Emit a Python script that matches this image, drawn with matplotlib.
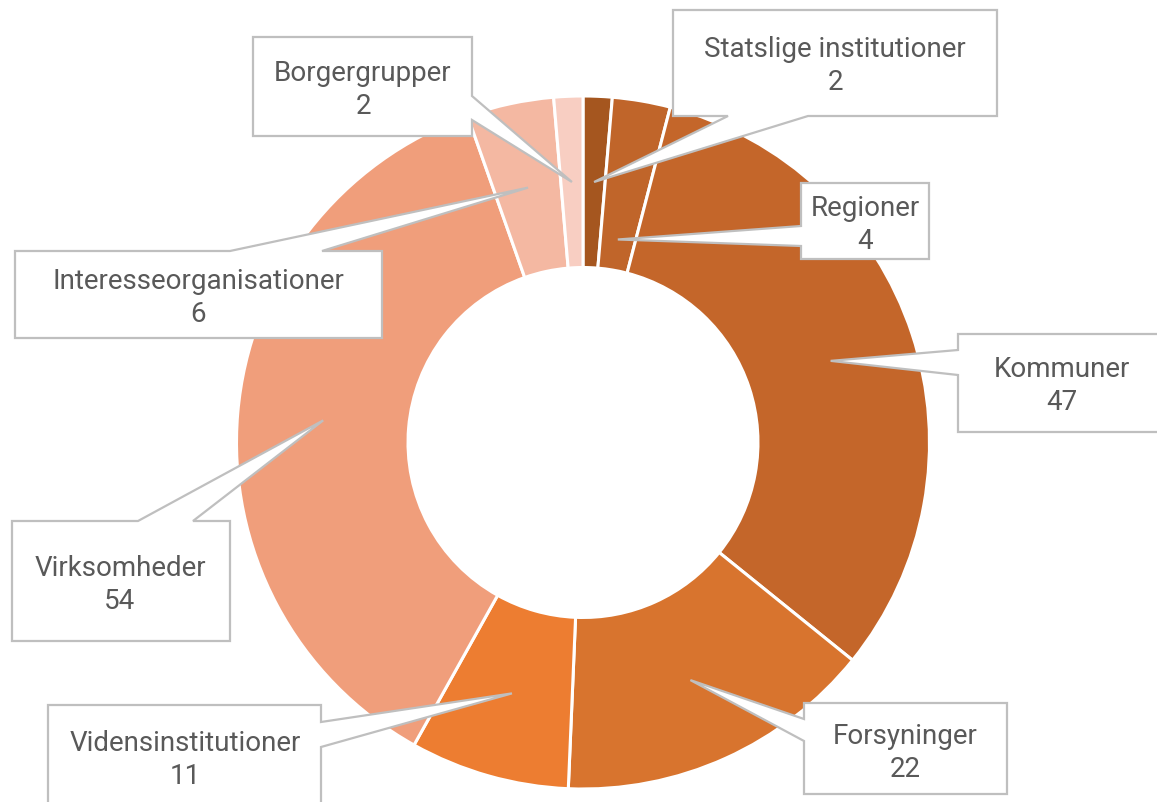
import matplotlib
matplotlib.use("Agg")
import matplotlib.pyplot as plt
import numpy as np
from matplotlib.patches import Polygon

categories = ["Statslige institutioner", "Regioner", "Kommuner", "Forsyninger",
              "Vidensinstitutioner", "Virksomheder", "Interesseorganisationer", "Borgergrupper"]
values = [2, 4, 47, 22, 11, 54, 6, 2]
colors = ["#A5561F", "#C0652A", "#C4662A", "#D8742E", "#ED7D31", "#F09E7B", "#F4B8A2", "#F8CEC2"]

W, H = 1157, 803
fig = plt.figure(figsize=(W / 100, H / 100), dpi=100)
ax = fig.add_axes([0, 0, 1, 1])

cx, cy = 583, H - 443.5
R = 346.5
width = 0.495
wedges, _ = ax.pie(values, colors=colors, startangle=90, counterclock=False,
                   center=(cx, cy), radius=R, frame=True,
                   wedgeprops=dict(width=R * width, edgecolor="white", linewidth=2.2))
ax.set_xlim(0, W)
ax.set_ylim(0, H)
ax.set_aspect("equal")
ax.axis("off")

# callout boxes: (x0, y0, x1, y1) in pixel coords (y down), side, base positions, tip radius factor
callouts = {
    "Statslige institutioner": ((673, 11, 997, 117), "bottom", (728, 808), 1.0),
    "Regioner": ((801, 184, 929, 260), "left", (227, 247), 0.79),
    "Kommuner": ((958, 335, 1166, 433), "left", (351, 376), 1.0),
    "Forsyninger": ((804, 704, 1007, 795), "left", (720, 742), 1.0),
    "Vidensinstitutioner": ((48, 706, 321, 840), "right", (723, 748), 1.0),
    "Virksomheder": ((12, 522, 230, 642), "top", (138, 193), 1.0),
    "Interesseorganisationer": ((15, 252, 382, 339), "top", (230, 322), 1.0),
    "Borgergrupper": ((253, 38, 472, 137), "right", (97, 121), 1.0),
}
text_centers = {
    "Statslige institutioner": (835, 66),
    "Regioner": (865, 225),
    "Kommuner": (1062, 386),
    "Forsyninger": (905, 753),
    "Vidensinstitutioner": (185, 760),
    "Virksomheder": (120, 585),
    "Interesseorganisationer": (198, 298),
    "Borgergrupper": (363, 90),
}

r_mid = R * (1 - width / 2)
for w, cat, val in zip(wedges, categories, values):
    (x0, y0, x1, y1), side, (b0, b1), rf = callouts[cat]
    ang = np.deg2rad((w.theta1 + w.theta2) / 2)
    tx = cx + r_mid * rf * np.cos(ang)
    ty = H - (cy + r_mid * rf * np.sin(ang))  # pixel y
    tip = (tx, ty)
    if side == "top":
        pts = [(x0, y0), (b0, y0), tip, (b1, y0), (x1, y0), (x1, y1), (x0, y1)]
    elif side == "right":
        pts = [(x0, y0), (x1, y0), (x1, b0), tip, (x1, b1), (x1, y1), (x0, y1)]
    elif side == "bottom":
        pts = [(x0, y0), (x1, y0), (x1, y1), (b1, y1), tip, (b0, y1), (x0, y1)]
    else:
        pts = [(x0, y0), (x1, y0), (x1, y1), (x0, y1), (x0, b1), tip, (x0, b0)]
    pts = [(px, H - py) for px, py in pts]
    ax.add_patch(Polygon(pts, closed=True, facecolor="white", edgecolor="#BFBFBF",
                         linewidth=1.6, zorder=5, clip_on=False, joinstyle="miter"))
    tcx, tcy = text_centers[cat]
    ax.text(tcx, H - tcy, f"{cat}\n{val}", ha="center", va="center", fontsize=20,
            family="Roboto", color="#595959", linespacing=1.27, zorder=6)

fig.savefig("out.png", dpi=100, facecolor="white")
